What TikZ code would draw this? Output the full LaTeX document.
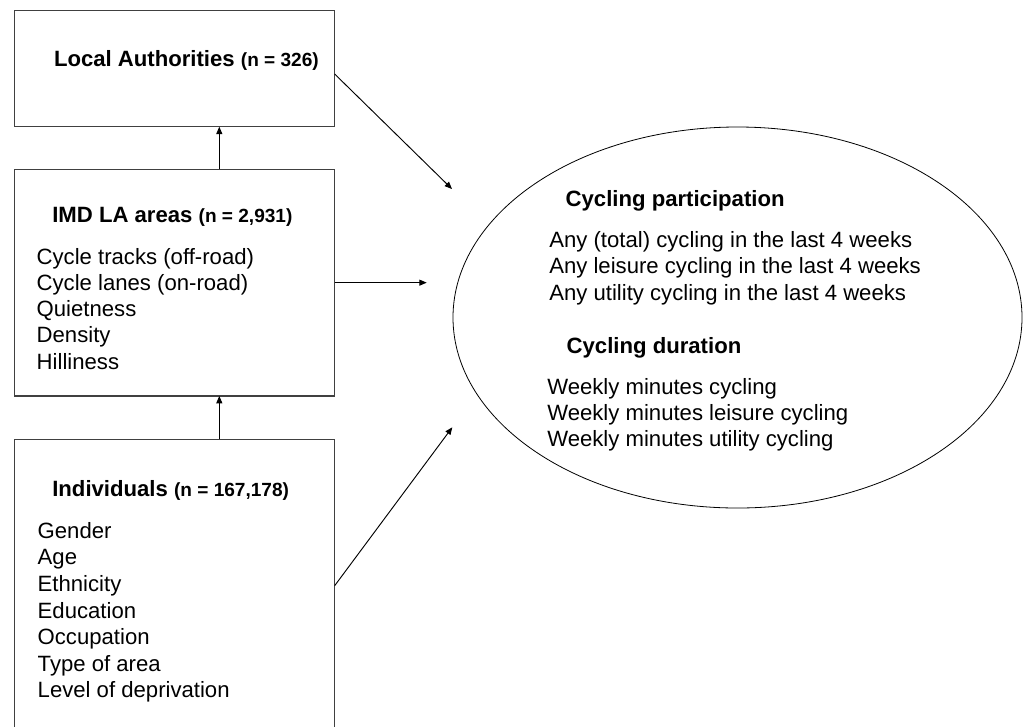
\documentclass[tikz,border=0pt]{standalone}
\usepackage{fontspec}
\setmainfont{Liberation Sans}
\usetikzlibrary{shapes.geometric,arrows.meta}
\tikzset{
  box/.style={draw=black!75, line width=0.8pt, inner sep=0pt, outer sep=0pt, minimum width=240pt},
  oval/.style={ellipse, draw=black, line width=0.6pt, inner sep=0pt, outer sep=0pt, minimum width=426.75pt, minimum height=285.75pt},
  txt/.style={anchor=base west, inner sep=0pt, outer sep=0pt, font=\fontsize{16.6}{20}\selectfont},
  head/.style={txt, font=\fontsize{16.6}{20}\selectfont\bfseries},
  arr/.style={-{Triangle[length=5.5pt,width=4.5pt]}, line width=0.7pt, black},
}
\newcommand{\nsmall}[1]{{\fontsize{14.3}{16}\selectfont #1}}
\begin{document}
\begin{tikzpicture}[x=0.75pt,y=-0.75pt]
\useasboundingbox (0,0) rectangle (1024,726);
\clip (0,0) rectangle (1024,726);
\fill[white] (0,0) rectangle (1024,726);

% boxes
\node[box, minimum height=87pt] (la) at (174.7,68.7) {};
\node[box, minimum height=170pt] (imd) at (174.7,282.65) {};
\node[box, minimum height=240.5pt] (ind) at (174.7,599.65) {};
\node[oval] (out) at (737.5,317.5) {};

% box texts
\node[head] (lah) at (54,66) {Local Authorities \nsmall{(n = 326)}};

\node[head] (imdh) at (52.3,222.3) {IMD LA areas \nsmall{(n = 2,931)}};
\node[txt] (i1) at (36.7,264) {Cycle tracks (off-road)};
\node[txt] (i2) at (36.7,290.3) {Cycle lanes (on-road)};
\node[txt] (i3) at (36.7,316.6) {Quietness};
\node[txt] (i4) at (36.7,342.9) {Density};
\node[txt] (i5) at (36.7,369.2) {Hilliness};

\node[head] (indh) at (52.3,496.7) {Individuals \nsmall{(n = 167,178)}};
\node[txt] (p1) at (37.7,538.3) {Gender};
\node[txt] (p2) at (37.7,564.9) {Age};
\node[txt] (p3) at (37.7,591.5) {Ethnicity};
\node[txt] (p4) at (37.7,618.1) {Education};
\node[txt] (p5) at (37.7,644.7) {Occupation};
\node[txt] (p6) at (37.7,671.3) {Type of area};
\node[txt] (p7) at (37.7,697.9) {Level of deprivation};

% ellipse texts
\node[head] (cph) at (565.7,206) {Cycling participation};
\node[txt] (c1) at (549.3,247) {Any (total) cycling in the last 4 weeks};
\node[txt] (c2) at (549.3,273.6) {Any leisure cycling in the last 4 weeks};
\node[txt] (c3) at (549.3,300.2) {Any utility cycling in the last 4 weeks};
\node[head] (cdh) at (566.7,353.7) {Cycling duration};
\node[txt] (d1) at (547.3,394.5) {Weekly minutes cycling};
\node[txt] (d2) at (547.3,420.5) {Weekly minutes leisure cycling};
\node[txt] (d3) at (547.3,446.3) {Weekly minutes utility cycling};

% connectors
\coordinate (ax) at (219.3,0);
\coordinate (t1) at (452,189);
\coordinate (t2) at (426.7,282.65);
\coordinate (t3) at (452.3,427.3);
\draw[arr] (ax |- imd.north) -- (ax |- la.south);
\draw[arr] (ax |- ind.north) -- (ax |- imd.south);
\draw[arr] ([yshift=-4pt]la.east) -- (t1);
\draw[arr] (imd.east) -- (t2);
\draw[arr] ([yshift=10.5pt]ind.east) -- (t3);
\end{tikzpicture}
\end{document}
